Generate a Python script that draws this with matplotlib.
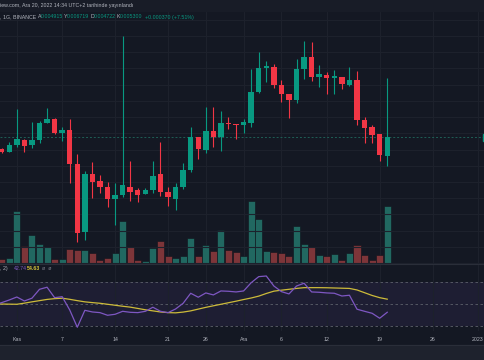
import numpy as np
import pandas as pd
import matplotlib
matplotlib.use("Agg")
import matplotlib.pyplot as plt

plt.rcParams["font.family"] = ["Liberation Sans", "DejaVu Sans"]

# ---- data (prices in 1e-6 units) ----
start_date = "2022-10-30"
opens = [5050, 5001, 5138, 5249, 5132, 5243, 5621, 5706, 5386, 5458, 4765, 3614, 4571,
         4444, 4338, 4133, 4206, 4338, 4281, 4223, 4281, 4566, 4246, 4138, 4343, 4640,
         5300, 5036, 5436, 5300, 5607, 5592, 5569, 5607, 6354, 6999, 7036, 6543, 6303,
         6160, 6979, 7325, 6758, 6813, 6739, 6750, 6551, 6677, 5690, 5518, 5371, 4915]
highs = [5076, 5194, 5940, 5274, 5631, 5660, 5957, 5729, 5518, 5706, 4949, 4627, 4804,
         4553, 4427, 4414, 7972, 4817, 4315, 4320, 4823, 5207, 4343, 4403, 4773, 5518,
         5306, 5981, 5981, 5893, 5752, 5603, 5699, 6979, 7465, 7217, 7113, 6677, 6310,
         7257, 7813, 7772, 7093, 6887, 6951, 6758, 7044, 6932, 5759, 5569, 5371, 6719]
lows = [4969, 4989, 5091, 5001, 5070, 5186, 5607, 5371, 5228, 4414, 3471, 3504, 4145,
        4229, 4007, 3722, 4172, 4105, 4084, 4213, 4239, 4183, 4023, 3954, 4308, 4603,
        4851, 4969, 5103, 5021, 5480, 5270, 5399, 5531, 6328, 6631, 6472, 6118, 5736,
        6078, 6703, 6658, 6499, 6310, 6310, 6438, 6525, 5569, 5186, 5173, 4823, 4722]
closes = [4989, 5138, 5264, 5124, 5249, 5607, 5706, 5386, 5458, 4759, 3608, 4571, 4421,
          4343, 4133, 4195, 4368, 4252, 4206, 4286, 4535, 4252, 4162, 4338, 4646, 5306,
          5056, 5436, 5300, 5621, 5585, 5569, 5644, 6362, 7008, 7064, 6543, 6303, 6160,
          6979, 7334, 6758, 6840, 6731, 6777, 6562, 6677, 5683, 5502, 5356, 4930, 5300]
volumes = [4.4, 5, 52.4, 17.7, 28.7, 19.4, 16.4, 4, 4.7, 14.7, 13.7, 13, 10, 3.7, 5.7, 10,
           42.7, 16, 3.7, 2.7, 15.4, 22.7, 7, 5.7, 7.7, 25.7, 7.4, 18.4, 12.7, 33.4, 13,
           11.4, 7.7, 62.7, 44, 12, 11.4, 10.7, 7.4, 37, 19, 16.4, 8.7, 7.4, 9.4, 3.7,
           10.7, 18.7, 8.4, 3.7, 8, 57.4]

# RSI starts one day earlier (Oct 29)
rsi_start = "2022-10-29"
rsi = [49.5, 51.5, 53.9, 56.6, 53, 55.5, 63.6, 65.5, 56, 56.9, 44.8, 29.1, 44.5, 43, 42.4,
       40, 40.9, 43.6, 42.7, 42.4, 43.6, 47.3, 43.6, 42.4, 45.7, 50.9, 60, 56.4, 60.3,
       58.5, 62.1, 61.8, 61.2, 62.1, 69.6, 75.1, 75.7, 66.6, 61.5, 59.4, 66.6, 69.1, 61.2,
       60.9, 60.3, 60, 57.5, 58.2, 45.5, 43.6, 41.8, 37.3, 42.74]
rsi_ma = [50.3, 50.2, 50.1, 50, 51, 52.2, 53.3, 54.4, 55.1, 55.5, 54.5, 53.3, 52.2, 51.5,
          50.9, 50, 49.1, 48.2, 47.4, 46.2, 45, 44, 43, 42.4, 42.2, 42.9, 44, 45.6, 47.2,
          48.6, 50, 51.4, 52.8, 54.3, 55.7, 57.4, 59.8, 61.9, 62.8, 63.6, 64.4, 65.1, 65.1,
          65.1, 65, 64.8, 64.6, 64.4, 63, 60.5, 58, 56, 54.63]

tick_dates = ["2022-11-01", "2022-11-07", "2022-11-14", "2022-11-21", "2022-11-26",
              "2022-12-01", "2022-12-06", "2022-12-12", "2022-12-19", "2022-12-26",
              "2023-01-01"]
tick_labels = ["Kas", "7", "14", "21", "26", "Ara", "6", "12", "19", "26", "2023"]

# ---- styling ----
BG = "#141823"
GRID = "#1d212c"
UP, DOWN = "#089981", "#f23645"
VUP, VDOWN = "#216861", "#7d3539"
TXT = "#b2b5be"
FS = 3.8

W, H = 485, 360
fig = plt.figure(figsize=(W / 100, H / 100), dpi=100, facecolor=BG)

def rect(top, bottom):
    return [0, 1 - bottom / H, 1, (bottom - top) / H]

opens_p = np.array(opens) * 1e-6
highs_p = np.array(highs) * 1e-6
lows_p = np.array(lows) * 1e-6
closes_p = np.array(closes) * 1e-6
x = np.arange(len(opens))
up = closes_p >= opens_p
t0 = pd.Timestamp(start_date)
tick_x = [(pd.Timestamp(d) - t0).days for d in tick_dates]
xlim = (-0.225, 63.93)

# volume axis (behind)
axv = fig.add_axes(rect(0, 263.5))
axv.set_facecolor(BG)
axv.bar(x, volumes, width=0.93, color=np.where(up, VUP, VDOWN),
        edgecolor="#10131c", linewidth=0.4, zorder=2)
axv.set_ylim(0, max(volumes) / 0.238)
axv.set_xlim(*xlim)
axv.set_xticks(tick_x)
axv.grid(axis="x", color=GRID, lw=0.8)
axv.set_yticks([])
axv.tick_params(length=0, labelbottom=False)
for s in axv.spines.values():
    s.set_visible(False)

# price axis (log scale)
ax = fig.add_axes(rect(0, 263.5), sharex=axv)
ax.patch.set_visible(False)
ax.set_yscale("log")
ax.set_ylim(3.187e-3, 9.217e-3)
grid_prices = 5.386e-3 * 1.0675 ** np.arange(-8, 9)
for g in grid_prices:
    ax.axhline(g, color=GRID, lw=0.8, zorder=0)
ax.vlines(x, lows_p, highs_p, colors=np.where(up, UP, DOWN), lw=0.8, zorder=3)
body_lo = np.minimum(opens_p, closes_p)
body_h = np.maximum(np.abs(closes_p - opens_p), 2.5e-5)
ax.bar(x, body_h, bottom=body_lo, width=0.72, color=np.where(up, UP, DOWN),
       linewidth=0, zorder=4)
ax.axhline(closes_p[-1], color="#1f5f56", lw=0.7, ls=(0, (2, 2)), zorder=1)
ax.set_yticks([])
ax.minorticks_off()
ax.tick_params(length=0, labelbottom=False, labelleft=False)
for s in ax.spines.values():
    s.set_visible(False)

# RSI pane
axr = fig.add_axes(rect(264, 331), sharex=axv)
axr.set_facecolor(BG)
xr = np.arange(len(rsi)) - 1
axr.axhspan(30, 70, color="#7e57c2", alpha=0.1, lw=0)
for lvl in (70, 50, 30):
    axr.axhline(lvl, color="#5d606b", lw=0.6, ls=(0, (3, 3)))
axr.plot(xr, rsi_ma, color="#cdbb3a", lw=0.9, zorder=3)
axr.plot(xr, rsi, color="#7e57c2", lw=0.9, zorder=4)
axr.set_ylim(25.7, 86.6)
axr.set_xlim(*xlim)
axr.set_yticks([])
axr.grid(axis="x", color=GRID, lw=0.8)
axr.tick_params(length=0, labelbottom=False)
for s in axr.spines.values():
    s.set_visible(False)

# x axis labels
for tx, lab in zip(tick_x, tick_labels):
    xp = axr.transData.transform((tx, 0))[0] / fig.dpi / (W / 100)
    fig.text(xp, 1 - 339.5 / H, lab, color=TXT, fontsize=FS, ha="center", va="center")

# separators and bottom strip
fig.add_artist(plt.Line2D([0, 1], [1 - 263.8 / H] * 2, color="#2a2e39", lw=0.8))
fig.add_artist(plt.Rectangle((0, 0), 1, 15 / H, color="#1e222d", transform=fig.transFigure))
fig.add_artist(plt.Line2D([0, 1], [15 / H] * 2, color="#2a2e39", lw=0.8))
# last price tag at right edge
fig.add_artist(plt.Rectangle((483 / W, 1 - 141 / H), 3 / W, 7 / H, color=UP,
                             transform=fig.transFigure))

# header
def ftxt(xp, yp, s, c, **kw):
    fig.text(xp / W, 1 - yp / H, s, color=c, fontsize=FS, va="center", ha="left", **kw)

fig.add_artist(plt.Rectangle((0, 1 - 11 / H), 1, 11 / H, color="#181c27",
                             transform=fig.transFigure))
ftxt(0, 5.5, "iew.com, Ara 20, 2022 14:34 UTC+2 tarihinde yayınlandı", TXT)
ftxt(0, 17, ", 1G, BINANCE", TXT)
ftxt(37.5, 17, "A", TXT)
ftxt(40.5, 17, "0.004915", UP)
ftxt(63.5, 17, "Y", TXT)
ftxt(66.5, 17, "0.006719", UP)
ftxt(90.5, 17, "D", TXT)
ftxt(93.5, 17, "0.004722", UP)
ftxt(116.5, 17, "K", TXT)
ftxt(119.5, 17, "0.005300", UP)
ftxt(145, 17, "+0.000370 (+7.51%)", UP)

# RSI legend
ftxt(0, 268.5, ", 2)", TXT)
ftxt(13.5, 268.5, "42.74", "#7e57c2")
ftxt(27, 268.5, "54.63", "#d8c43a", fontweight="bold")
ftxt(42, 268.5, "ø  ø", "#787b86")

fig.savefig("out.png", dpi=100, facecolor=BG)
